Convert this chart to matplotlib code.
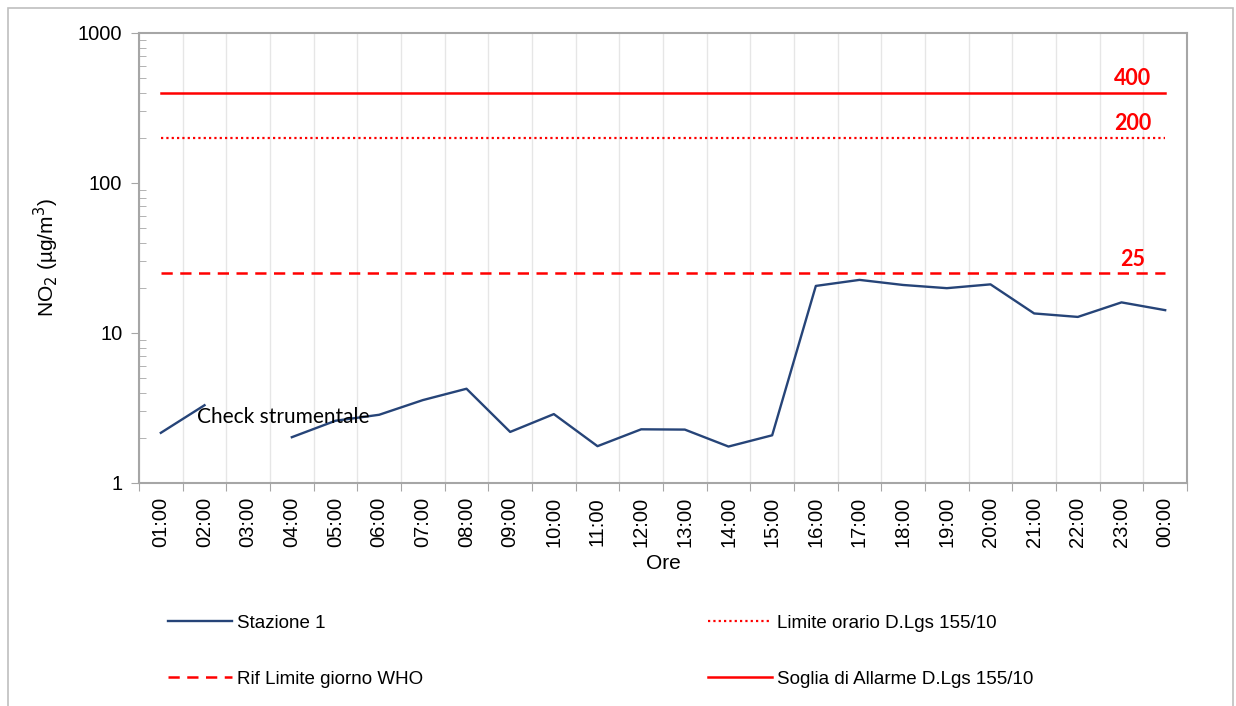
import numpy as np
import matplotlib.pyplot as plt
from matplotlib.patches import Rectangle

plt.rcParams['font.family'] = ['Liberation Sans', 'DejaVu Sans']

# ---------------- data ----------------
hours = ['01:00', '02:00', '03:00', '04:00', '05:00', '06:00', '07:00', '08:00',
         '09:00', '10:00', '11:00', '12:00', '13:00', '14:00', '15:00', '16:00',
         '17:00', '18:00', '19:00', '20:00', '21:00', '22:00', '23:00', '00:00']
stazione1 = [2.16, 3.3, np.nan, 2.02, 2.6, 2.85, 3.57, 4.25,
             2.19, 2.88, 1.76, 2.28, 2.27, 1.75, 2.08, 20.6,
             22.6, 20.9, 19.9, 21.1, 13.5, 12.8, 16.0, 14.2]
limite_orario = 200
rif_who = 25
soglia_allarme = 400

x = np.arange(len(hours))
blue = '#264478'
red = '#FF0000'
grey = '#A6A6A6'

fig = plt.figure(figsize=(12.36, 7.06), dpi=100)
ax = fig.add_axes([139/1236, 1 - 483/706, (1187-139)/1236, (483-33)/706])

ax.plot(x, stazione1, color=blue, lw=1.7, label='Stazione 1')
ax.plot(x, [limite_orario]*len(x), color=red, lw=1.6, ls=(0, (1, 1.4)), label='Limite orario D.Lgs 155/10')
ax.plot(x, [rif_who]*len(x), color=red, lw=1.8, ls=(0, (4.5, 3)), label='Rif Limite giorno WHO')
ax.plot(x, [soglia_allarme]*len(x), color=red, lw=1.8, label='Soglia di Allarme D.Lgs 155/10')

# value labels on the reference lines
for v in [soglia_allarme, limite_orario, rif_who]:
    ax.text(x[-1] - 0.75, v * 1.06, str(v), color=red, fontsize=15.5, fontweight='bold',
            ha='center', va='bottom', family=['Lato', 'DejaVu Sans'])

ax.text(0.83, 2.76, 'Check strumentale', fontsize=15, ha='left', va='center',
        family=['Lato', 'DejaVu Sans'])

ax.set_yscale('log')
ax.set_ylim(1, 1000)
ax.set_xlim(-0.5, len(x) - 0.5)
ax.set_yticks([1, 10, 100, 1000])
ax.set_yticklabels(['1', '10', '100', '1000'], fontsize=14.5)
ax.tick_params(axis='y', which='major', direction='out', length=6, color=grey, pad=6)
ax.tick_params(axis='y', which='minor', direction='in', length=5, color=grey)

ax.set_xticks(np.arange(-0.5, len(x)), minor=False)
ax.set_xticklabels([])
ax.set_xticks(x, minor=True)
ax.set_xticklabels(hours, minor=True, rotation=90, fontsize=14.5)
ax.tick_params(axis='x', which='major', direction='out', length=6, color=grey)
ax.tick_params(axis='x', which='minor', length=0, pad=10)
ax.grid(True, axis='x', which='major', color='#E6E6E6', lw=1)
ax.set_axisbelow(True)

for s in ax.spines.values():
    s.set_color(grey)
    s.set_linewidth(1.5)

ax.set_xlabel('Ore', fontsize=15, labelpad=5)
ax.set_ylabel('NO$_2$ (µg/m$^3$)', fontsize=15, labelpad=12)

# legend, two columns placed by hand
handles = {l.get_label(): l for l in ax.get_lines()}
fig.legend([handles['Stazione 1'], handles['Rif Limite giorno WHO']],
           ['Stazione 1', 'Rif Limite giorno WHO'],
           loc='upper left', bbox_to_anchor=(151/1236, 1 - 598/706), frameon=False,
           fontsize=13.5, handlelength=3.4, handletextpad=0.3, labelspacing=2.05)
fig.legend([handles['Limite orario D.Lgs 155/10'], handles['Soglia di Allarme D.Lgs 155/10']],
           ['Limite orario D.Lgs 155/10', 'Soglia di Allarme D.Lgs 155/10'],
           loc='upper left', bbox_to_anchor=(691/1236, 1 - 598/706), frameon=False,
           fontsize=13.5, handlelength=3.4, handletextpad=0.3, labelspacing=2.05)

# outer chart frame
fig.patches.append(Rectangle((8/1236, -0.01), 1225/1236, 1 - 8/706 + 0.01,
                             transform=fig.transFigure, fill=False, edgecolor='#BFBFBF', lw=1.2))

plt.savefig('out.png', dpi=100)
plt.close()
